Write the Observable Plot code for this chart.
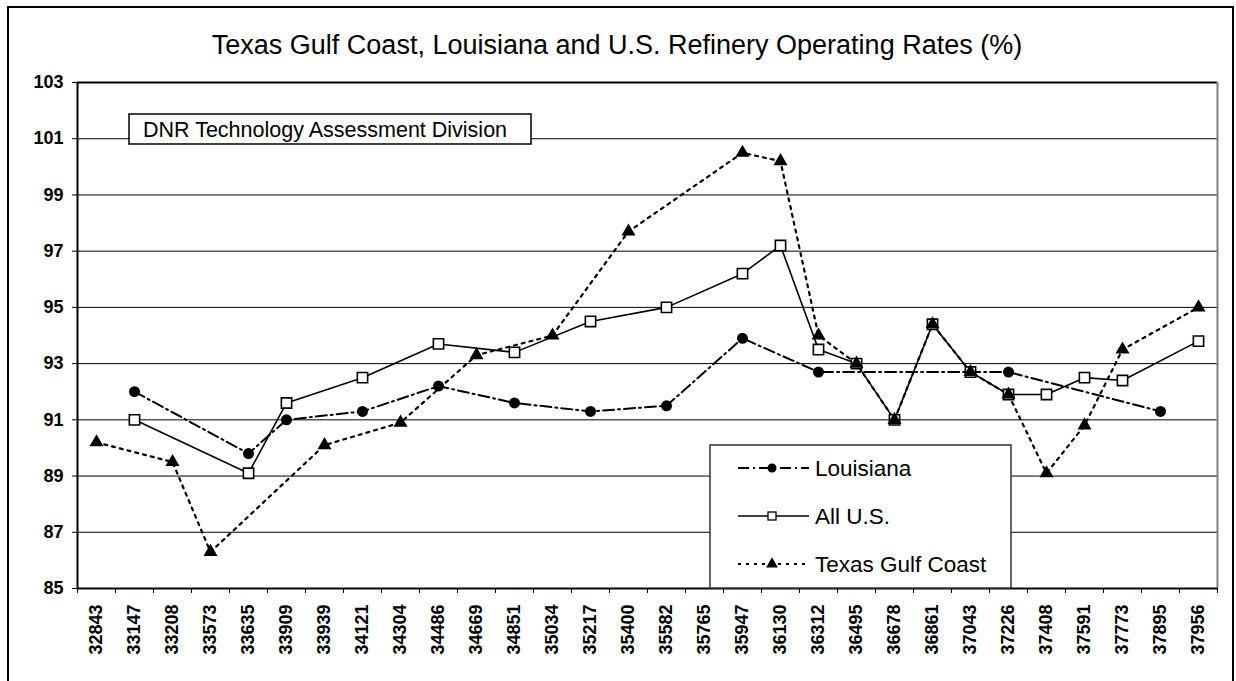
<!DOCTYPE html>
<html>
<head>
<meta charset="utf-8">
<script src="https://cdn.jsdelivr.net/npm/d3@7"></script>
<script src="https://cdn.jsdelivr.net/npm/@observablehq/plot@0.6"></script>
<style>
  html, body { margin: 0; padding: 0; background: #fff; }
  #wrap { position: relative; width: 1236px; height: 681px; overflow: hidden; font-family: "Liberation Sans", Arial, sans-serif; }
  #wrap > svg { position: absolute; left: 0; top: 0; }
  #wrap svg g[aria-label$="tick label"], #wrap svg g[aria-label$="tick label"] text { font-weight: bold !important; font-size: 18px !important; font-family: "Liberation Sans", Arial, sans-serif !important; }
</style>
</head>
<body>
<div id="wrap"></div>
<script>
const categories = ["32843","33147","33208","33573","33635","33909","33939","34121","34304","34486",
  "34669","34851","35034","35217","35400","35582","35765","35947","36130","36312",
  "36495","36678","36861","37043","37226","37408","37591","37773","37895","37956"];

const louisiana = [null, 92.0, null, null, 89.8, 91.0, null, 91.3, null, 92.2,
  null, 91.6, null, 91.3, null, 91.5, null, 93.9, null, 92.7,
  null, null, null, null, 92.7, null, null, null, 91.3, null];

const allUS = [null, 91.0, null, null, 89.1, 91.6, null, 92.5, null, 93.7,
  null, 93.4, null, 94.5, null, 95.0, null, 96.2, 97.2, 93.5,
  93.0, 91.0, 94.4, 92.7, 91.9, 91.9, 92.5, 92.4, null, 93.8];

const texas = [90.2, null, 89.5, 86.3, null, null, 90.1, null, 90.9, null,
  93.3, null, 94.0, null, 97.7, null, null, 100.5, 100.2, 94.0,
  93.0, 91.0, 94.4, 92.7, 91.9, 89.1, 90.8, 93.5, null, 95.0];

const yTicks = [85, 87, 89, 91, 93, 95, 97, 99, 101, 103];
const seriesNames = ["Louisiana", "All U.S.", "Texas Gulf Coast"];
const title = "Texas Gulf Coast, Louisiana and U.S. Refinery Operating Rates (%)";
const note = "DNR Technology Assessment Division";

const rows = (arr) => arr.map((v, i) => ({i, v})).filter(d => d.v != null);
const laRows = rows(louisiana), usRows = rows(allUS), txRows = rows(texas);
const idx = categories.map((c, i) => i);
const bounds = d3.range(-0.5, categories.length, 1);

const styles = {
  "Louisiana": {dash: "11,4,2,4", width: 2},
  "All U.S.": {dash: null, width: 1.6},
  "Texas Gulf Coast": {dash: "3,5", width: 2.2}
};

const chart = Plot.plot({
  width: 1236, height: 681,
  marginLeft: 77, marginRight: 19, marginTop: 82, marginBottom: 93,
  x: {domain: [-0.5, categories.length - 0.5], axis: null},
  y: {domain: [85, 103], axis: null},
  style: {fontFamily: "'Liberation Sans', Arial, sans-serif", background: "transparent", color: "#000", fontSize: "18px"},
  marks: [
    Plot.ruleY(yTicks.filter(t => t > 85 && t < 103), {stroke: "#000", strokeWidth: 1}),
    Plot.ruleY([103], {stroke: "#000", strokeWidth: 2}),
    Plot.ruleX([categories.length - 0.5], {stroke: "#808080", strokeWidth: 2}),
    Plot.line(txRows, {x: "i", y: "v", stroke: "#000", strokeWidth: styles["Texas Gulf Coast"].width, strokeDasharray: styles["Texas Gulf Coast"].dash}),
    Plot.line(laRows, {x: "i", y: "v", stroke: "#000", strokeWidth: styles["Louisiana"].width, strokeDasharray: styles["Louisiana"].dash}),
    Plot.line(usRows, {x: "i", y: "v", stroke: "#000", strokeWidth: styles["All U.S."].width}),
    Plot.dot(laRows, {x: "i", y: "v", r: 5.5, symbol: "circle", fill: "#000", stroke: "none"}),
    Plot.dot(usRows, {x: "i", y: "v", r: 5.8, symbol: "square", fill: "#fff", stroke: "#000", strokeWidth: 1.6}),
    Plot.dot(txRows, {x: "i", y: "v", r: 5.2, symbol: "triangle", fill: "#000", stroke: "none"}),
    Plot.ruleX([-0.5], {stroke: "#000", strokeWidth: 2}),
    Plot.ruleY([85], {stroke: "#000", strokeWidth: 2}),
    Plot.axisY({ticks: yTicks, anchor: "left", tickSize: 5, tickPadding: 9, fontSize: 18, fontWeight: "bold", label: null, tickFormat: d => String(d)}),
    Plot.axisX({ticks: bounds, anchor: "bottom", tickSize: 5, tickFormat: () => "", label: null}),
    Plot.axisX({ticks: idx, anchor: "bottom", tickSize: 0, tickPadding: 16, tickRotate: -90, fontSize: 18, fontWeight: "bold", label: null, tickFormat: i => categories[i]})
  ]
});

d3.select(chart).selectAll('g[aria-label$="tick label"]')
  .style("font-size", "18px").style("font-weight", "bold")
  .selectAll("text").style("font-size", "18px").style("font-weight", "bold");

const wrap = document.getElementById("wrap");
wrap.appendChild(chart);

// Overlay: outer border, title, annotation box, legend
const ov = d3.select(wrap).append("svg")
  .attr("width", 1236).attr("height", 681)
  .style("font-family", "'Liberation Sans', Arial, sans-serif");

ov.append("rect").attr("x", 8).attr("y", 7).attr("width", 1225).attr("height", 690)
  .attr("fill", "none").attr("stroke", "#000").attr("stroke-width", 2);

ov.append("text").attr("x", 617).attr("y", 54).attr("text-anchor", "middle")
  .attr("font-size", 27).attr("fill", "#000").text(title);

ov.append("rect").attr("x", 129).attr("y", 114).attr("width", 402).attr("height", 30)
  .attr("fill", "#fff").attr("stroke", "#000").attr("stroke-width", 1.5);
ov.append("text").attr("x", 143).attr("y", 137).attr("font-size", 21.5).attr("fill", "#000").text(note);

ov.append("rect").attr("x", 710).attr("y", 445).attr("width", 301).attr("height", 143)
  .attr("fill", "#fff").attr("stroke", "#333").attr("stroke-width", 1.5);

const legY = [468, 516, 564];
seriesNames.forEach((name, k) => {
  const g = ov.append("g").attr("transform", `translate(0,${legY[k]})`);
  const st = styles[name];
  g.append("line").attr("x1", 738).attr("x2", 809).attr("y1", 0).attr("y2", 0)
    .attr("stroke", "#000").attr("stroke-width", st.width)
    .attr("stroke-dasharray", st.dash);
  if (k === 0) g.append("circle").attr("cx", 772).attr("cy", 0).attr("r", 4.5).attr("fill", "#000");
  if (k === 1) g.append("rect").attr("x", 768).attr("y", -4).attr("width", 8).attr("height", 8).attr("fill", "#fff").attr("stroke", "#000").attr("stroke-width", 1.3);
  if (k === 2) g.append("path").attr("d", d3.symbol(d3.symbolTriangle, 60)()).attr("transform", "translate(772,0)").attr("fill", "#000");
  g.append("text").attr("x", 815).attr("y", 0).attr("dy", "0.35em").attr("font-size", 22.5).attr("fill", "#000").text(name);
});
</script>
</body>
</html>
